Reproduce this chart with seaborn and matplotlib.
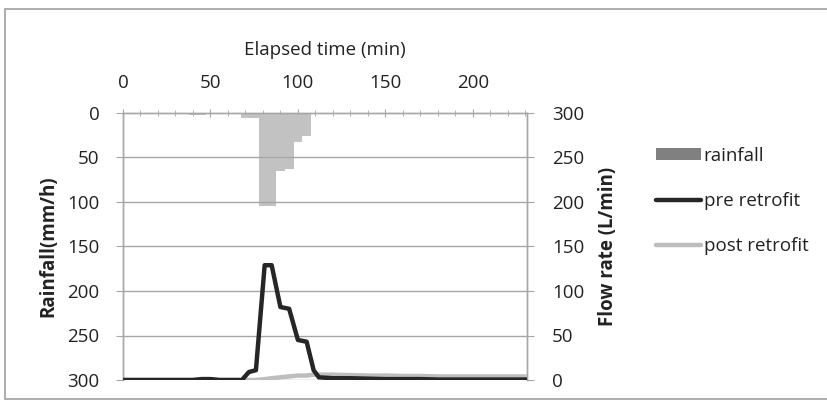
import pandas as pd
import seaborn as sns
import matplotlib.pyplot as plt
from matplotlib.patches import Patch, Rectangle
from matplotlib.lines import Line2D
from matplotlib.ticker import MultipleLocator

# rainfall intensity, 5-min blocks (centre time, mm/h)
rain_t = [40, 45, 70, 75, 80, 85, 90, 95, 100, 105]
rain_i = [2, 2, 6, 6, 105, 105, 65, 63, 33, 26]

# runoff flow rate (L/min)
flow_t = [0, 10, 20, 30, 40, 45, 50, 55, 60, 65, 68, 72, 76, 81, 85, 90, 95, 100,
          105, 109, 112, 120, 130, 140, 150, 160, 170, 180, 190, 200, 210, 220, 231]
pre = [0, 0, 0, 0, 0, 1, 1, 0, 0, 0, 0, 9, 11, 129, 129, 82, 80, 45,
       43, 11, 3, 2, 2, 1.5, 1, 1, 1, 0.5, 0.5, 0.5, 0.5, 0.5, 0.5]
post = [0, 0, 0, 0, 0, 1, 1, 0, 0, 0, 0, 0, 0, 1, 2, 3, 4, 5,
        5, 6, 6, 6, 5.5, 5, 5, 4.5, 4.5, 4, 4, 4, 4, 4, 4]

rain = pd.DataFrame({'t': rain_t, 'i': rain_i})

sns.set_style("white")
plt.rcParams['font.family'] = ['Open Sans', 'DejaVu Sans']
plt.rcParams['font.size'] = 13.5

fig = plt.figure(figsize=(8.28, 4.04), dpi=100)
ax = fig.add_axes([123 / 828, 1 - 380 / 404, 404 / 828, 267 / 404])
ax2 = ax.twinx()

grid_c = '#a6a6a6'
txt_c = '#222222'

# rainfall bars hanging from the top
sns.histplot(data=rain, x='t', weights='i', binwidth=5, binrange=(37.5, 107.5),
             ax=ax, color='#c2c2c2', alpha=1, linewidth=0, zorder=1)
ax.set_ylim(300, 0)
ax.set_xlim(0, 231)
ax.set_yticks(range(0, 301, 50))
for v in range(50, 300, 50):
    ax.axhline(v, color=grid_c, lw=1, zorder=2)

# flow lines on right axis
sns.lineplot(x=flow_t, y=post, ax=ax2, color='#bdbdbd', lw=3.2, zorder=3)
sns.lineplot(x=flow_t, y=pre, ax=ax2, color='#262626', lw=3.2, zorder=4)
ax2.set_ylim(0, 300)
ax2.set_yticks(range(0, 301, 50))

ax.xaxis.tick_top()
ax.xaxis.set_label_position('top')
ax.set_xticks(range(0, 201, 50))
ax.xaxis.set_minor_locator(MultipleLocator(10))
ax.tick_params(axis='x', which='major', direction='inout', length=6,
               color=grid_c, pad=12, labelcolor=txt_c)
ax.tick_params(axis='x', which='minor', top=True, direction='inout', length=5,
               color=grid_c)
ax.tick_params(axis='y', direction='out', length=5, color=grid_c, pad=12,
               labelcolor=txt_c)
ax2.tick_params(axis='y', direction='out', length=5, color=grid_c, pad=13,
                labelcolor=txt_c)

ax.set_xlabel('Elapsed time (min)', labelpad=14, color=txt_c)
ax.set_ylabel('Rainfall(mm/h)', fontweight='bold', labelpad=6, color=txt_c)
ax2.set_ylabel('Flow rate (L/min)', fontweight='bold', labelpad=10, color=txt_c)

for a in (ax, ax2):
    for s in a.spines.values():
        s.set_color(grid_c)
        s.set_linewidth(1)
    a.spines['bottom'].set_visible(False)
ax.axhline(300, color=grid_c, lw=1, zorder=2)

handles = [Patch(facecolor='#808080', edgecolor='none'),
           Line2D([], [], color='#262626', lw=3.2),
           Line2D([], [], color='#bdbdbd', lw=3.2)]
fig.legend(handles, ['rainfall', 'pre retrofit', 'post retrofit'],
           loc='center left', bbox_to_anchor=(639 / 828, 1 - 201 / 404),
           frameon=False, handlelength=2.4, handleheight=0.6,
           handletextpad=0.15, labelspacing=1.45, labelcolor=txt_c)

fig.patches.append(Rectangle((5 / 828, 1 - 399 / 404), 1 - 5 / 828, 390 / 404,
                             transform=fig.transFigure, fill=False,
                             edgecolor='#a0a0a0', lw=1.2))

fig.savefig('out.png', dpi=100)
